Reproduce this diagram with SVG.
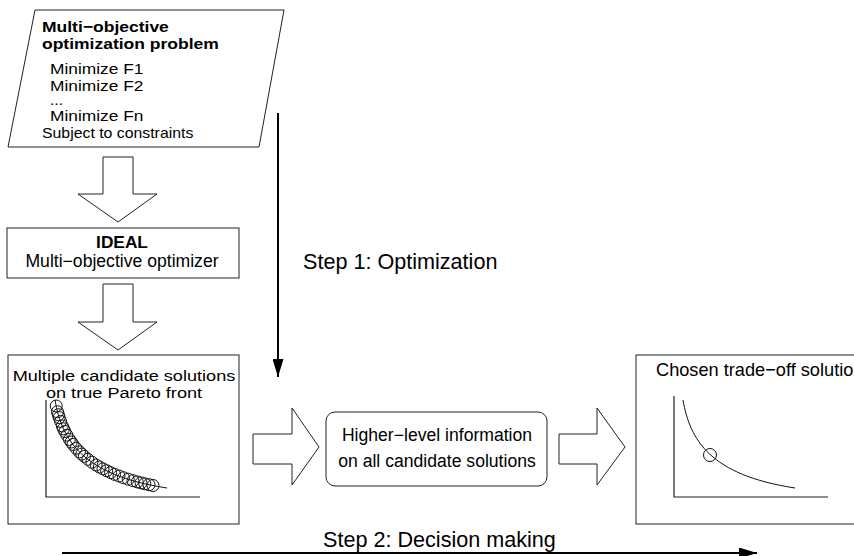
<svg xmlns="http://www.w3.org/2000/svg" width="854" height="556" viewBox="0 0 854 556">
<defs>
<style>
text{font-family:"Liberation Sans",Arial,sans-serif;fill:#000}
.b{font-weight:bold}
.p{font-size:15.5px}
.t{font-size:15.5px}
.box{fill:#fff;stroke:#222;stroke-width:1}
.harrow{fill:#fff;stroke:#222;stroke-width:1}
.axis{fill:none;stroke:#222;stroke-width:1.2}
.curve{fill:none;stroke:#111;stroke-width:1}
.pt{fill:none;stroke:#111;stroke-width:1}
.line{stroke:#000;stroke-width:2;fill:none}
</style>
<marker id="ah" viewBox="0 0 18 11" refX="18" refY="5.5" markerWidth="18" markerHeight="11" markerUnits="userSpaceOnUse" orient="auto">
<path d="M0,0 L18,5.5 L0,11 Z" fill="#000"/>
</marker>
</defs>
<rect width="854" height="556" fill="#fff"/>

<g id="problem">
<path class="box" d="M35,10 L284,10 L259,147 L8,147 Z"/>
<text class="b p" transform="translate(42,32) scale(1.13,1)">Multi−objective</text>
<text class="b p" transform="translate(42,49) scale(1.13,1)">optimization problem</text>
<text class="p" transform="translate(50,74) scale(1.12,1)">Minimize F1</text>
<text class="p" transform="translate(50,91) scale(1.12,1)">Minimize F2</text>
<text transform="translate(50,105) scale(1.12,1)" font-size="14">...</text>
<text class="p" transform="translate(50,121) scale(1.12,1)">Minimize Fn</text>
<text transform="translate(42,138) scale(1.1,1)" font-size="14.4">Subject to constraints</text>
</g>

<g id="optimizer">
<rect class="box" x="7" y="228" width="232" height="50"/>
<text class="b" x="122" y="248" font-size="17.3" text-anchor="middle">IDEAL</text>
<text x="122" y="267" font-size="17.6" text-anchor="middle">Multi−objective optimizer</text>
</g>

<g id="candidates">
<rect class="box" x="8" y="355" width="231" height="169"/>
<text class="t" transform="translate(124,381) scale(1.17,1)" text-anchor="middle">Multiple candidate solutions</text>
<text class="t" transform="translate(124,398) scale(1.17,1)" text-anchor="middle">on true Pareto front</text>
<path class="axis" d="M46,400 L46,497 L200,497"/>
<path class="curve" d="M55,400 C62,440 82,475 167,488"/>
<g class="pt">
<circle cx="56.2" cy="406" r="6"/>
<circle cx="57.5" cy="411.8" r="6"/>
<circle cx="58.4" cy="414.7" r="6"/>
<circle cx="59.2" cy="417.6" r="6"/>
<circle cx="60.6" cy="421.4" r="6"/>
<circle cx="62.3" cy="426" r="6"/>
<circle cx="63.5" cy="428.8" r="6"/>
<circle cx="64.9" cy="431.5" r="6"/>
<circle cx="66.9" cy="435.2" r="6"/>
<circle cx="69.4" cy="439.4" r="6"/>
<circle cx="71.2" cy="442" r="6"/>
<circle cx="73" cy="444.5" r="6"/>
<circle cx="76" cy="448.2" r="6"/>
<circle cx="79.4" cy="451.8" r="6"/>
<circle cx="81.8" cy="454.1" r="6"/>
<circle cx="84.4" cy="456.4" r="6"/>
<circle cx="87.9" cy="459.3" r="6"/>
<circle cx="91.9" cy="462.2" r="6"/>
<circle cx="96.1" cy="465" r="6"/>
<circle cx="99.4" cy="467" r="6"/>
<circle cx="103" cy="468.9" r="6"/>
<circle cx="106.7" cy="470.8" r="6"/>
<circle cx="110.6" cy="472.6" r="6"/>
<circle cx="114.6" cy="474.4" r="6"/>
<circle cx="119" cy="476" r="6"/>
<circle cx="123.4" cy="477.7" r="6"/>
<circle cx="128.2" cy="479.2" r="6"/>
<circle cx="133" cy="480.7" r="6"/>
<circle cx="137.2" cy="481.9" r="6"/>
<circle cx="141" cy="482.9" r="6"/>
<circle cx="144.8" cy="483.8" r="6"/>
<circle cx="149" cy="484.7" r="6"/>
<circle cx="153" cy="485.5" r="6"/>
</g>
</g>

<g id="info">
<rect class="box" x="326" y="412" width="221" height="74" rx="9" ry="9"/>
<text x="437" y="441" font-size="17.6" text-anchor="middle">Higher−level information</text>
<text x="437" y="467" font-size="17.6" text-anchor="middle">on all candidate solutions</text>
</g>

<g id="chosen">
<rect class="box" x="636" y="355" width="231" height="169"/>
<text x="656" y="376" font-size="18.2">Chosen trade−off solution</text>
<path class="axis" d="M674,396 L674,497 L828,497"/>
<path class="curve" d="M683,400 C690,440 710,475 795,488"/>
<circle class="pt" cx="710" cy="455" r="6.5"/>
</g>

<g id="connectors">
<path class="harrow" d="M103,157 L133,157 L133,194 L157,194 L118,222 L78,194 L103,194 Z"/>
<path class="harrow" d="M103,284 L133,284 L133,322 L157,322 L118,350 L78,322 L103,322 Z"/>
<path class="harrow" d="M253,434 L292,434 L292,408 L319,447 L292,485 L292,464 L253,464 Z"/>
<path class="harrow" d="M559,434 L597,434 L597,408 L625,447 L597,485 L597,464 L559,464 Z"/>
<line class="line" x1="278" y1="113" x2="278" y2="377" marker-end="url(#ah)"/>
<line class="line" x1="62" y1="553" x2="757" y2="553" marker-end="url(#ah)"/>
</g>

<text x="303" y="269" font-size="21.6">Step 1: Optimization</text>
<text x="323" y="547" font-size="21.6">Step 2: Decision making</text>
</svg>
